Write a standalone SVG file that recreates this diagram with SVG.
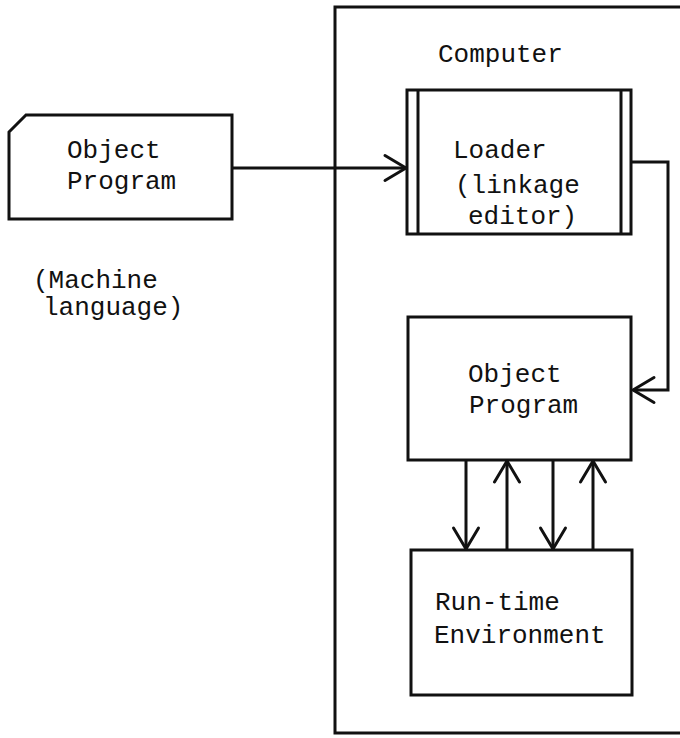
<svg xmlns="http://www.w3.org/2000/svg" width="680" height="738" viewBox="0 0 680 738">
  <style>
    .box { fill: none; stroke: #111; stroke-width: 3; stroke-linejoin: miter; }
    .wire { fill: none; stroke: #111; stroke-width: 3; }
    .lbl { font-family: "Liberation Mono", "DejaVu Sans Mono", monospace; font-size: 26px; fill: #111; }
  </style>
  <defs>
    <marker id="head" viewBox="-26 -16 30 32" refX="0" refY="0" markerWidth="30" markerHeight="32" markerUnits="userSpaceOnUse" orient="auto">
      <path d="M-21,-12.5 L0,0 L-21,12.5" fill="none" stroke="#111" stroke-width="3" stroke-linecap="round" stroke-linejoin="round"/>
    </marker>
  </defs>
  <rect width="680" height="738" fill="#fff"/>

  <!-- card-shaped input: object program -->
  <g id="object-program-card">
    <path class="box" d="M9,132 L26,115 H232 V219 H9 Z"/>
    <text class="lbl" x="67" y="158">Object</text>
    <text class="lbl" x="67" y="189">Program</text>
  </g>

  <g id="machine-language-note">
    <text class="lbl" x="33" y="288">(Machine</text>
    <text class="lbl" x="43" y="315">language)</text>
  </g>

  <!-- computer enclosure, open to the right -->
  <g id="computer">
    <path class="box" d="M690,7 H335 V733 H690"/>
    <text class="lbl" x="438" y="62">Computer</text>
  </g>

  <g id="loader">
    <rect class="box" x="407" y="90" width="224" height="144"/>
    <line class="wire" x1="418" y1="90" x2="418" y2="234"/>
    <line class="wire" x1="621" y1="90" x2="621" y2="234"/>
    <text class="lbl" x="453" y="158">Loader</text>
    <text class="lbl" x="455" y="193">(linkage</text>
    <text class="lbl" x="468" y="224">editor)</text>
  </g>

  <g id="object-program">
    <rect class="box" x="408" y="317" width="223" height="143"/>
    <text class="lbl" x="468" y="382">Object</text>
    <text class="lbl" x="469" y="413">Program</text>
  </g>

  <g id="runtime-environment">
    <rect class="box" x="411" y="550" width="221" height="145"/>
    <text class="lbl" x="435" y="610">Run-time</text>
    <text class="lbl" x="434" y="643">Environment</text>
  </g>

  <g id="connectors">
    <path class="wire" d="M232,168 H406" marker-end="url(#head)"/>
    <path class="wire" d="M631,162 H668 V390 H633" marker-end="url(#head)"/>
    <path class="wire" d="M466,460 V549" marker-end="url(#head)"/>
    <path class="wire" d="M507,550 V461" marker-end="url(#head)"/>
    <path class="wire" d="M553,460 V549" marker-end="url(#head)"/>
    <path class="wire" d="M593,550 V461" marker-end="url(#head)"/>
  </g>
</svg>
